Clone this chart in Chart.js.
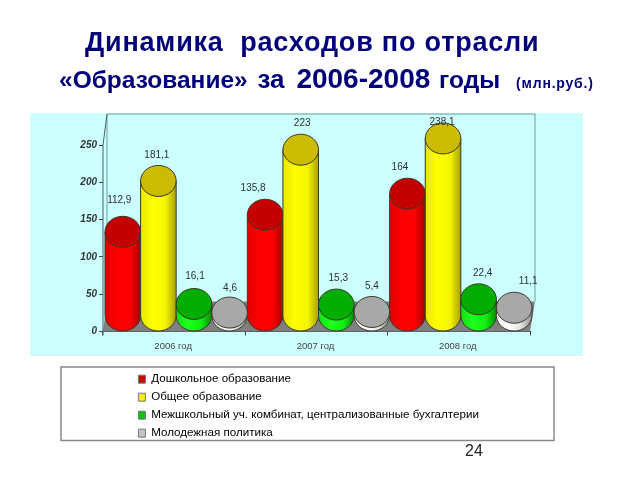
<!DOCTYPE html>
<html lang="ru">
<head>
<meta charset="utf-8">
<script src="https://cdn.jsdelivr.net/npm/chart.js@4"></script>
<style>
html,body{margin:0;padding:0;background:#fff;width:640px;height:480px;overflow:hidden}
#c{position:absolute;left:0;top:0}
.t{position:absolute;white-space:pre;font-family:"Liberation Sans",Arial,sans-serif;font-weight:bold;color:#00007a}
</style>
</head>
<body>
<canvas id="c" width="640" height="480"></canvas>
<div class="t" id="t1" style="left:85px;top:26px;font-size:27px;line-height:32px;letter-spacing:0.8px">Динамика  расходов по отрасли</div>
<div class="t" id="t2" style="left:59px;top:63px;font-size:24.5px;line-height:32px">«Образование» <span style="font-size:26px;margin-left:3px">за</span> <span style="font-size:28px;margin-left:5px">2006-2008</span> <span style="margin-left:2px">годы</span><span style="font-size:14px;margin-left:16px;letter-spacing:0.8px">(млн.руб.)</span></div>
<div class="t" style="left:465px;top:442px;font-size:16px;line-height:18px;font-weight:normal;color:#222">24</div>
<script>
const categories = ["2006 год", "2007 год", "2008 год"];
const seriesNames = ["Дошкольное образование", "Общее образование", "Межшкольный уч. комбинат, централизованные бухгалтерии", "Молодежная политика"];
const preschool = [112.9, 135.8, 164];
const general = [181.1, 223, 238.1];
const interschool = [16.1, 15.3, 22.4];
const youth = [4.6, 5.4, 11.1];
const yTicks = [0, 50, 100, 150, 200, 250];

const seriesValues = [preschool, general, interschool, youth];
const swatch = ["#d40000", "#f2f200", "#10c010", "#c4c4c4"];
const topFill = ["#c40000", "#ccbb00", "#00ad00", "#a8a8a8"];
const bodyStops = [
  ["#e00000", "#ff0000", "#ff0000", "#a80000"],
  ["#e8e800", "#ffff00", "#f4f400", "#a8a000"],
  ["#10e010", "#20ff20", "#10ee10", "#009000"],
  ["#f0f0f0", "#ffffff", "#e0e0e0", "#8c8c8c"]
];
// per-label shifts of the value text, [dx, dy], series by category
const labelNudge = [
  [[-3.5, -5.5], [-12, 0], [-7.5, 0]],
  [[-1.5, 0], [1.5, 0], [-1, 9.5]],
  [[1, -2], [2, 0], [4, 0]],
  [[0.5, 1.5], [0, 0], [14, 0]]
];
const RY = 15.5, SHIFT = 2;

const cylinders = {
  id: "cylinders",
  beforeDraw(chart) {
    const c = chart.ctx, lg = chart.legend;
    c.save();
    c.fillStyle = "#ccffff";
    c.fillRect(30, 113, 553, 242);
    c.fillStyle = "#dfeeee";
    c.fillRect(30, 355, 553, 1);
    c.fillStyle = "#fff";
    c.strokeStyle = "#888";
    c.lineWidth = 1.5;
    c.fillRect(61, 367, 493, 73.5);
    c.strokeRect(61, 367, 493, 73.5);
    c.restore();
    if (lg) {
      lg.left = 132; lg.top = 367; lg.right = 540; lg.bottom = 520;
    }
  },
  beforeDatasetDraw() { return false; },
  beforeDatasetsDraw(chart) {
    const c = chart.ctx, a = chart.chartArea, y = chart.scales.y;
    const y0 = y.getPixelForValue(0), y250 = y.getPixelForValue(250);
    c.save();
    c.fillStyle = "#808080";
    c.beginPath();
    c.moveTo(a.left, y0); c.lineTo(a.right, y0); c.lineTo(a.right + 5, y0 - 30); c.lineTo(a.left + 4, y0 - 30);
    c.closePath(); c.fill();
    c.strokeStyle = "#6f9c9c";
    c.lineWidth = 1;
    c.beginPath();
    c.moveTo(a.left + 4, y0 - 30); c.lineTo(a.left + 4, a.top + 1); c.lineTo(a.right + 5, a.top + 1); c.lineTo(a.right + 5, y0 - 30);
    c.stroke();
    c.strokeStyle = "#4d5f5f";
    c.beginPath();
    c.moveTo(a.left, y0 + 4); c.lineTo(a.left, y250); c.lineTo(a.left + 4, a.top + 1);
    c.stroke();
    c.restore();
  },
  afterDatasetsDraw(chart) {
    const c = chart.ctx;
    c.save();
    c.translate(SHIFT, 0);
    chart.data.datasets.forEach((ds, i) => {
      chart.getDatasetMeta(i).data.forEach(el => {
        const w = el.width, xl = el.x - w / 2, xr = el.x + w / 2;
        const yTop = el.y - RY, yBot = el.base - RY;
        const g = c.createLinearGradient(xl, 0, xr, 0);
        g.addColorStop(0, bodyStops[i][0]);
        g.addColorStop(0.35, bodyStops[i][1]);
        g.addColorStop(0.7, bodyStops[i][2]);
        g.addColorStop(1, bodyStops[i][3]);
        c.beginPath();
        c.moveTo(xl, yTop);
        c.lineTo(xl, yBot);
        c.ellipse(el.x, yBot, w / 2, RY, 0, Math.PI, 0, true);
        c.lineTo(xr, yTop);
        c.closePath();
        c.fillStyle = g; c.fill();
        c.strokeStyle = "#3a3a2a"; c.lineWidth = 1; c.stroke();
        c.beginPath();
        c.ellipse(el.x, yTop, w / 2, RY, 0, 0, Math.PI * 2);
        c.fillStyle = topFill[i]; c.fill();
        c.stroke();
      });
    });
    c.font = "10px 'Liberation Sans', Arial, sans-serif";
    c.fillStyle = "#2e2e2e";
    c.textAlign = "center";
    c.textBaseline = "middle";
    chart.data.datasets.forEach((ds, i) => {
      chart.getDatasetMeta(i).data.forEach((el, j) => {
        const n = labelNudge[i][j];
        c.fillText(String(ds.data[j]).replace(".", ","), el.x + n[0], el.y - 41.5 + n[1]);
      });
    });
    c.restore();
  }
};

new Chart(document.getElementById("c"), {
  type: "bar",
  data: {
    labels: categories,
    datasets: seriesValues.map((v, i) => ({
      label: seriesNames[i],
      data: v,
      backgroundColor: swatch[i],
      barPercentage: 1,
      categoryPercentage: 1
    }))
  },
  plugins: [cylinders],
  options: {
    responsive: false,
    animation: false,
    events: [],
    layout: { padding: { left: 63, right: 110, top: 113, bottom: 118.5 } },
    plugins: {
      title: { display: false },
      tooltip: { enabled: false },
      legend: {
        display: true,
        position: "chartArea",
        align: "start",
        labels: {
          boxWidth: 7,
          boxHeight: 8,
          padding: 6.4,
          color: "#222",
          font: { family: "'Liberation Sans', Arial, sans-serif", size: 11.6 },
          generateLabels: () => seriesNames.map((t, i) => ({
            text: t, fillStyle: swatch[i], strokeStyle: "#777", lineWidth: 1, datasetIndex: i, hidden: false
          }))
        }
      }
    },
    scales: {
      x: {
        afterFit(s) { s.height = 30; },
        border: { display: true, color: "#444" },
        grid: { drawOnChartArea: false, drawTicks: true, tickLength: 4, color: "#444" },
        ticks: { color: "#444", padding: 5, labelOffset: -1, maxRotation: 0, font: { family: "'Liberation Sans', Arial, sans-serif", size: 9.5 } }
      },
      y: {
        min: 0,
        max: 293,
        afterFit(s) { s.width = 40; },
        afterBuildTicks(s) { s.ticks = yTicks.map(v => ({ value: v })); },
        border: { display: false },
        grid: { drawOnChartArea: false, drawTicks: true, tickLength: 4, color: "#444" },
        ticks: { color: "#333", padding: 2, font: { family: "'Liberation Sans', Arial, sans-serif", size: 10, style: "italic", weight: "bold" } }
      }
    }
  }
});
</script>
</body>
</html>
